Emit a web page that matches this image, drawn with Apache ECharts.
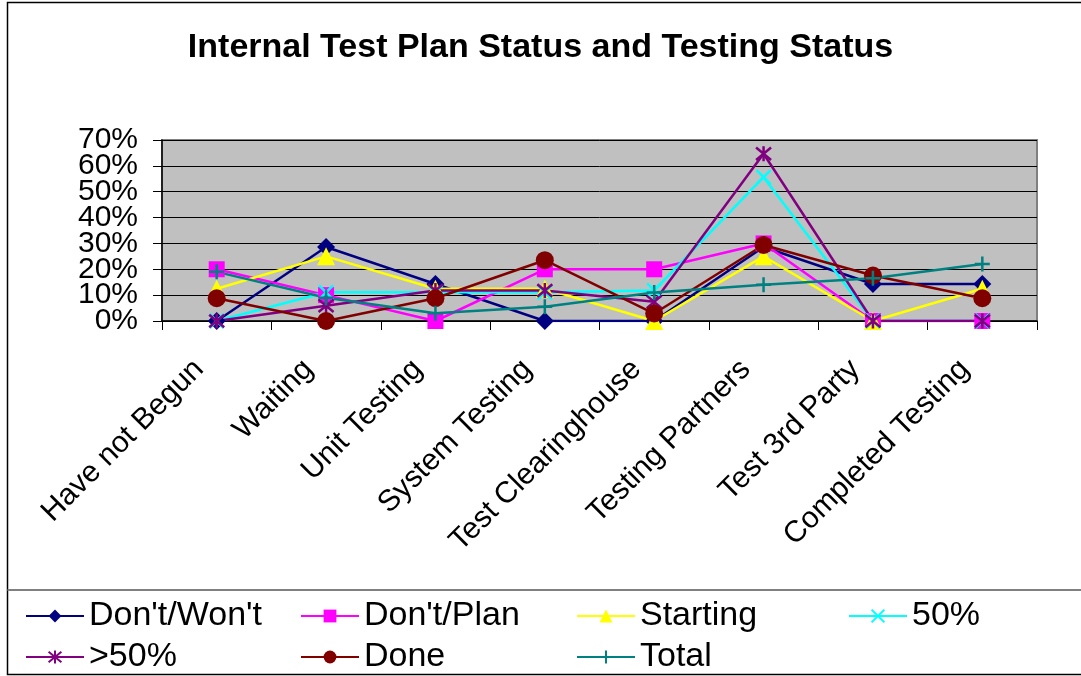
<!DOCTYPE html>
<html>
<head>
<meta charset="utf-8">
<script src="https://cdn.jsdelivr.net/npm/echarts@6/dist/echarts.min.js"></script>
<style>
  html, body { margin: 0; padding: 0; background: #fff; }
</style>
</head>
<body>
<div id="chart" style="width:1081px;height:676px;"></div>
<script>
// categories and values (percent)
var categories = ['Have not Begun', 'Waiting', 'Unit Testing', 'System Testing',
    'Test Clearinghouse', 'Testing Partners', 'Test 3rd Party', 'Completed Testing'];
var dontWont = [0, 28.6, 14.3, 0, 0, 28.6, 14.3, 14.3];
var dontPlan = [20, 10, 0, 20, 20, 30, 0, 0];
var starting = [12.5, 25, 12.5, 12.5, 0, 25, 0, 12.5];
var fifty = [0, 11.1, 11.1, 11.1, 11.8, 55.6, 0, 0];
var overFifty = [0, 5.9, 11.8, 11.8, 7.4, 64.7, 0, 0];
var done = [8.8, 0, 8.8, 23.5, 2.9, 29.4, 17.6, 8.8];
var total = [19, 9, 3, 5.5, 11, 14, 16.5, 22];
var yTicks = [0, 10, 20, 30, 40, 50, 60, 70];

var FONT = 'Liberation Sans, Arial, sans-serif';

var chart = echarts.init(document.getElementById('chart'));

function line(name, data, color, symbol, size, stroked) {
    var s = {
        name: name,
        type: 'line',
        data: data,
        symbol: symbol,
        symbolSize: size,
        showAllSymbol: true,
        lineStyle: { color: color, width: 2.5 },
        itemStyle: { color: color, opacity: 1 },
        emphasis: { disabled: true },
        animation: false
    };
    if (stroked) {
        s.itemStyle = { color: 'none', borderColor: color, borderWidth: 2.5 };
    }
    return s;
}

var xPath = 'path://M0,0L10,10M10,0L0,10';
var starPath = 'path://M0,0L10,10M10,0L0,10M5,-1L5,11';
var plusPath = 'path://M5,0L5,10M0,5L10,5';

function legendCol(left, names) {
    return {
        orient: 'vertical',
        left: left,
        top: 599,
        padding: 0,
        itemWidth: 58,
        itemHeight: 16,
        itemGap: 7,
        data: names,
        textStyle: { fontFamily: FONT, fontSize: 34, color: '#000', lineHeight: 34 }
    };
}

// the percent labels sit almost on top of each other, so they are split
// over two identical value axes (odd / even ticks) to keep ECharts from
// dropping any of them
function yAxisPart(parity, main) {
    return {
        type: 'value',
        position: 'left',
        min: yTicks[0],
        max: yTicks[yTicks.length - 1],
        interval: 10,
        axisLine: { show: main, lineStyle: { color: '#000', width: 1.5 } },
        axisTick: { show: main, length: 9, lineStyle: { color: '#000' } },
        splitLine: { show: main, lineStyle: { color: '#000', width: 1 } },
        axisLabel: {
            formatter: function (v) {
                return (yTicks.indexOf(v) % 2 === parity) ? v + '%' : '';
            },
            margin: 24,
            fontFamily: FONT,
            fontSize: 30,
            color: '#000'
        }
    };
}

var option = {
    backgroundColor: '#fff',
    title: {
        text: 'Internal Test Plan Status and Testing Status',
        left: 'center',
        top: 26,
        textStyle: { fontFamily: FONT, fontSize: 34, fontWeight: 'bold', color: '#000' }
    },
    legend: [
        legendCol(25, ["Don't/Won't", '>50%']),
        legendCol(300, ["Don't/Plan", 'Done']),
        legendCol(576, ['Starting', 'Total']),
        legendCol(848, ['50%'])
    ],
    grid: {
        left: 162, right: 44, top: 140, bottom: 355,
        show: true,
        backgroundColor: '#C0C0C0',
        borderColor: '#808080',
        borderWidth: 2
    },
    xAxis: {
        type: 'category',
        data: categories,
        boundaryGap: true,
        axisLine: { lineStyle: { color: '#000', width: 1.5 } },
        axisTick: { show: true, length: 9, lineStyle: { color: '#000' } },
        axisLabel: {
            rotate: 45,
            margin: 26,
            padding: [0, 25, 0, 0],
            interval: 0,
            fontFamily: FONT,
            fontSize: 30,
            color: '#000'
        }
    },
    yAxis: [yAxisPart(0, true), yAxisPart(1, false)],
    series: [
        line("Don't/Won't", dontWont, '#000080', 'diamond', 18),
        line("Don't/Plan", dontPlan, '#FF00FF', 'rect', 16),
        line('Starting', starting, '#FFFF00', 'triangle', 18),
        line('50%', fifty, '#00FFFF', xPath, 14, true),
        line('>50%', overFifty, '#800080', starPath, 15, true),
        line('Done', done, '#800000', 'circle', 18),
        line('Total', total, '#008080', plusPath, 15, true)
    ],
    graphic: [
        {
            type: 'rect',
            shape: { x: 7.5, y: 2.5, width: 1080, height: 672 },
            style: { fill: 'none', stroke: '#000', lineWidth: 1.5 },
            silent: true
        },
        {
            type: 'line',
            shape: { x1: 7.5, y1: 590, x2: 1081, y2: 590 },
            style: { stroke: '#808080', lineWidth: 2 },
            silent: true
        }
    ]
};

chart.setOption(option);
</script>
</body>
</html>
